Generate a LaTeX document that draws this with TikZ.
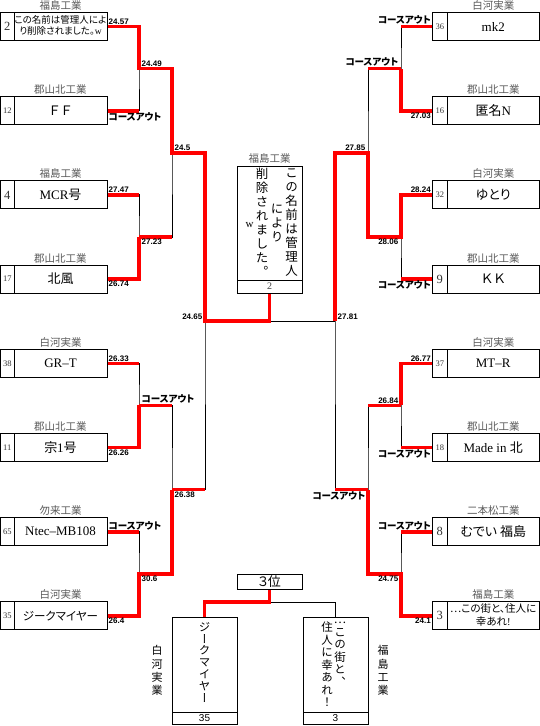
\documentclass[tikz,border=0pt]{standalone}
\usepackage{fontspec}
\setmainfont{Liberation Serif}
\newfontfamily\cjk[RawFeature=+palt]{Noto Sans CJK JP}
\newfontfamily\cjkv[RawFeature=+vert]{Noto Sans CJK JP}
\newfontfamily\lsans{Liberation Sans}
\newcommand\jp[1]{{\cjk #1}}
\newcommand\nbig[1]{{\fontsize{12.5}{13}\selectfont #1}}
\newcommand\nsmall[1]{{\fontsize{8.5}{9}\selectfont #1}}
\newcommand\Lbox[5]{%
  \node[numcell, minimum width=13.5pt] (#1n) at (7.25,#2) {#3};
  \node[namecell] (#1) at (60.5,#2) {#5};
  \node[school] at (#1.north) {#4};}
\newcommand\Rbox[5]{%
  \node[numcell, minimum width=14.5pt] (#1n) at (439.75,#2) {#3};
  \node[namecell, minimum width=92.5pt] (#1) at (493.25,#2) {#5};
  \node[school] at (#1.north) {#4};}
\begin{document}
\begin{tikzpicture}[x=1pt,y=-1pt,
  blk/.style={draw=black, line width=0.9pt},
  win/.style={draw=red, line width=3.6pt},
  cell/.style={draw, line width=1pt, inner sep=0pt, fill=white},
  numcell/.style={cell, minimum height=28pt, text=black!80},
  namecell/.style={cell, minimum width=93pt, minimum height=28pt, font=\fontsize{13}{15}\selectfont},
  school/.style={anchor=south, inner sep=1.5pt, text=black!65, font=\cjk\fontsize{10.5}{12}\selectfont},
  tm/.style={inner sep=1pt, font=\lsans\bfseries\fontsize{8}{9}\selectfont},
  co/.style={inner sep=1pt, font=\cjk\bfseries\fontsize{9.5}{10}\selectfont},
  labAR/.style={anchor=south west, yshift=0.8pt},
  labBR/.style={anchor=north west, yshift=-0.8pt},
  labAL/.style={anchor=south east, yshift=0.8pt},
  labBL/.style={anchor=north east, yshift=-0.8pt},
  vcol/.style={inner sep=0pt, align=center},
]
\useasboundingbox (0,0) rectangle (540,726);

% ---------- left boxes ----------
\Lbox{L1}{26.5}{\nbig{2}}{福島工業}{\cjk\fontsize{9.5}{10.5}\selectfont\begin{tabular}{@{}c@{}}この名前は管理人によ\\り削除されました。{\rmfamily w}\end{tabular}}
\Lbox{L2}{110.7}{\nsmall{12}}{郡山北工業}{\jp{Ｆ\hspace{3pt}Ｆ}}
\Lbox{L3}{194.9}{\nbig{4}}{福島工業}{MCR\jp{号}}
\Lbox{L4}{279.1}{\nsmall{17}}{郡山北工業}{\jp{北風}}
\Lbox{L5}{363.3}{\nsmall{38}}{白河実業}{GR–T}
\Lbox{L6}{447.5}{\nsmall{11}}{郡山北工業}{\jp{宗}1\jp{号}}
\Lbox{L7}{531.7}{\nsmall{65}}{勿来工業}{Ntec–MB108}
\Lbox{L8}{615.9}{\nsmall{35}}{白河実業}{\cjk\fontsize{11.5}{13}\selectfont ジークマイヤー}

% ---------- right boxes ----------
\Rbox{R1}{26.5}{\nsmall{36}}{白河実業}{mk2}
\Rbox{R2}{110.7}{\nsmall{16}}{郡山北工業}{\jp{匿名}N}
\Rbox{R3}{194.9}{\nsmall{32}}{白河実業}{\jp{ゆとり}}
\Rbox{R4}{279.1}{\nbig{9}}{郡山北工業}{\jp{Ｋ\hspace{2pt}Ｋ}}
\Rbox{R5}{363.3}{\nsmall{37}}{白河実業}{MT–R}
\Rbox{R6}{447.5}{\nsmall{18}}{郡山北工業}{Made in \jp{北}}
\Rbox{R7}{531.7}{\nbig{8}}{二本松工業}{\jp{むでい 福島}}
\Rbox{R8}{615.9}{\nbig{3}}{福島工業}{\cjk\fontsize{10.5}{13}\selectfont\begin{tabular}{@{}c@{}}…この街と、住人に\\幸あれ{\rmfamily !}\end{tabular}}

% ---------- winner box ----------
\node[cell, minimum width=65pt, minimum height=114pt] (W) at (269.5,223) {};
\node[cell, minimum width=65pt, minimum height=13pt, text=black!75, font=\fontsize{10}{11}\selectfont] (Wn) at (269.5,286.5) {2};
\node[school] at (W.north) {福島工業};
\node[vcol, font=\cjkv\fontsize{12.5}{14}\selectfont] (wc1) at (291.5,222.5) {こ\\の\\名\\前\\は\\管\\理\\人};
\node[vcol, font=\cjkv\fontsize{12.5}{14}\selectfont] (wc2) at (277,223.5) {に\\よ\\り};
\node[vcol, font=\cjkv\fontsize{12.5}{14}\selectfont] (wc3) at (262,222.5) {削\\除\\さ\\れ\\ま\\し\\た\\。};
\node[inner sep=0pt, font=\fontsize{11}{12}\selectfont] (wc4) at (249.5,225) {w};

% ---------- junctions ----------
\coordinate (la1) at (139,68.6);
\coordinate (la2) at (139,237);
\coordinate (la3) at (139,405.4);
\coordinate (la4) at (139,573.8);
\coordinate (lb1) at (172,152.8);
\coordinate (lb2) at (172,489.6);
\coordinate (lc)  at (205,321.2);
\coordinate (ra1) at (401,68.6);
\coordinate (ra2) at (401,237);
\coordinate (ra3) at (401,405.4);
\coordinate (ra4) at (401,573.8);
\coordinate (rb1) at (368,152.8);
\coordinate (rb2) at (368,489.6);
\coordinate (rc)  at (335,321.2);

% ---------- black bracket ----------
\foreach \t/\b/\j in {L1/L2/la1, L3/L4/la2, L5/L6/la3, L7/L8/la4}
  \draw[blk] (\t.east) -| (\j) |- (\b.east);
\foreach \t/\b/\j in {R1n/R2n/ra1, R3n/R4n/ra2, R5n/R6n/ra3, R7n/R8n/ra4}
  \draw[blk] (\t.west) -| (\j) |- (\b.west);
\draw[blk] (la1) -| (lb1) |- (la2);
\draw[blk] (la3) -| (lb2) |- (la4);
\draw[blk] (ra1) -| (rb1) |- (ra2);
\draw[blk] (ra3) -| (rb2) |- (ra4);
\draw[blk] (lb1) -| (lc) |- (lb2);
\draw[blk] (rb1) -| (rc) |- (rb2);
\draw[blk] (lc) -- (rc);

% ---------- red: times ----------
\foreach \n/\j in {L1/la1, L2/la1, L3/la2, L4/la2, L5/la3, L6/la3, L7/la4, L8/la4}
  \draw[win] (\n.east) -- (\n.east -| \j);
\foreach \n/\j in {R1n/ra1, R2n/ra1, R3n/ra2, R4n/ra2, R5n/ra3, R6n/ra3, R7n/ra4, R8n/ra4}
  \draw[win] (\n.west) -- (\n.west -| \j);
\draw[win] (la2) -- (la2 -| lb1);
\draw[win] (la3) -- (la3 -| lb2);
\draw[win] (lb2) -- (lb2 -| lc);
\draw[win] (ra1) -- (ra1 -| rb1);
\draw[win] (ra3) -- (ra3 -| rb2);
\draw[win] (rb2) -- (rb2 -| rc);

% ---------- red: winners ----------
\draw[win] (L1.east) -| (la1) -| (lb1) -| (lc) -| (Wn.south);
\draw[win] (L4.east) -| (la2);
\draw[win] (L6.east) -| (la3);
\draw[win] (L8.east) -| (la4) -| (lb2);
\draw[win] (R2n.west) -| (ra1);
\draw[win] (R3n.west) -| (ra2) -| (rb1) -| (rc);
\draw[win] (R5n.west) -| (ra3);
\draw[win] (R8n.west) -| (ra4) -| (rb2);

% ---------- labels left ----------
\node[tm,labAR] at (L1.east) {24.57};
\node[co,labBR] at (L2.east) {コースアウト};
\node[tm,labAR] at (L3.east) {27.47};
\node[tm,labBR] at (L4.east) {26.74};
\node[tm,labAR] at (L5.east) {26.33};
\node[tm,labBR] at (L6.east) {26.26};
\node[co,labAR] at (L7.east) {コースアウト};
\node[tm,labBR] at (L8.east) {26.4};
\node[tm,labAR,xshift=1.5pt] at (la1) {24.49};
\node[tm,labBR,xshift=1.5pt] at (la2) {27.23};
\node[co,labAR,xshift=1.5pt] at (la3) {コースアウト};
\node[tm,labBR,xshift=1.5pt] at (la4) {30.6};
\node[tm,labAR,xshift=1.5pt] at (lb1) {24.5};
\node[tm,labBR,xshift=1.5pt] at (lb2) {26.38};
\node[tm,labAL,xshift=-1.5pt] at (lc) {24.65};
% ---------- labels right ----------
\node[tm,labAR,xshift=1.5pt] at (rc) {27.81};
\node[co,labAL] at (R1n.west) {コースアウト};
\node[tm,labBL] at (R2n.west) {27.03};
\node[tm,labAL] at (R3n.west) {28.24};
\node[co,labBL] at (R4n.west) {コースアウト};
\node[tm,labAL] at (R5n.west) {26.77};
\node[co,labBL] at (R6n.west) {コースアウト};
\node[co,labAL] at (R7n.west) {コースアウト};
\node[tm,labBL] at (R8n.west) {24.1};
\node[co,labAL,xshift=-1.5pt] at (ra1) {コースアウト};
\node[tm,labBL,xshift=-1.5pt] at (ra2) {28.06};
\node[tm,labAL,xshift=-1.5pt] at (ra3) {26.84};
\node[tm,labBL,xshift=-1.5pt] at (ra4) {24.75};
\node[tm,labAL,xshift=-1.5pt] at (rb1) {27.85};
\node[co,labBL,xshift=-1.5pt] at (rb2) {コースアウト};

% ---------- third place ----------
\node[cell, minimum width=65pt, minimum height=15pt, font=\cjk\fontsize{13}{14}\selectfont] (T3) at (269.5,581.5) {３位};
\node[cell, minimum width=65pt, minimum height=95pt] (TL) at (204.5,664.5) {};
\node[cell, minimum width=65pt, minimum height=12pt, font=\lsans\fontsize{10}{11}\selectfont] (TLn) at (204.5,718) {35};
\node[cell, minimum width=65pt, minimum height=95pt] (TR) at (335.5,664.5) {};
\node[cell, minimum width=65pt, minimum height=12pt, font=\lsans\fontsize{10}{11}\selectfont] (TRn) at (335.5,718) {3};
\coordinate (t3j) at (269.5,602);
\draw[blk] (t3j) -| (TR.north);
\draw[win] (T3.south) -- (t3j) -| (TL.north);
\node[vcol, anchor=north, font=\cjkv\fontsize{11.5}{11.8}\selectfont] (tlt) at (204.5,622) {ジ\\ー\\ク\\マ\\イ\\ヤ\\ー};
\node[vcol, anchor=north, font=\cjkv\fontsize{11.5}{12.5}\selectfont] (trt1) at (340,622) {…\\こ\\の\\街\\と\\、};
\node[vcol, anchor=north, font=\cjkv\fontsize{11.5}{12.5}\selectfont] (trt2) at (327,622) {住\\人\\に\\幸\\あ\\れ\\！};
\node[vcol, font=\cjk\fontsize{11}{13.2}\selectfont] (sl) at (157,670.5) {白\\河\\実\\業};
\node[vcol, font=\cjk\fontsize{11}{13.2}\selectfont] (sr) at (383,670.5) {福\\島\\工\\業};
\end{tikzpicture}
\end{document}
